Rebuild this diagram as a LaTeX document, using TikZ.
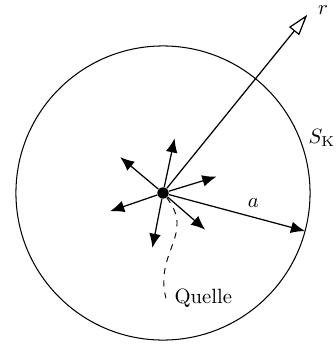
\documentclass[tikz,border=0pt]{standalone}
\usepackage{amsmath, amssymb}
\usetikzlibrary{arrows.meta, positioning}

\begin{document}
\begin{tikzpicture}[
  arr/.style={-{Latex[length=2.4mm, width=2.0mm]}, line width=0.6pt},
  ray/.style={-{Triangle[open, length=3.6mm, width=2.2mm]}, line width=0.6pt},
  dot/.style={circle, fill, inner sep=0pt, minimum size=5.5pt}
]
  \useasboundingbox (-2.771,-2.618) rectangle (2.941,3.281);

  \draw[line width=0.5pt] (0,0) circle (2.5);
  \node[dot] (src) at (0,0) {};

  % emitted particles
  \foreach \w/\n in {78/1, 140/2, 17/3, 199/4, 319/5, 259/6} {
    \coordinate (e\n) at (\w:0.95);
    \draw[arr] (src) -- (e\n);
  }

  \coordinate (rim) at (-15:2.5);
  \coordinate (rtip) at (51:3.9);
  \draw[arr] (src) -- node[pos=0.62, above=1pt] {$a$} (rim);
  \draw[ray] (src) -- (rtip);

  \node (rlab) at (2.72,3.11) {$r$};
  \node (sk)   at (2.70,0.94) {$S_\mathrm{K}$};
  \node[anchor=west, inner sep=4pt] (quelle) at (0.05,-1.79) {Quelle};

  \draw[dashed, line width=0.45pt] (src) .. controls (0.55,-0.7) and (-0.15,-1.0) .. (quelle.west);
\end{tikzpicture}
\end{document}
